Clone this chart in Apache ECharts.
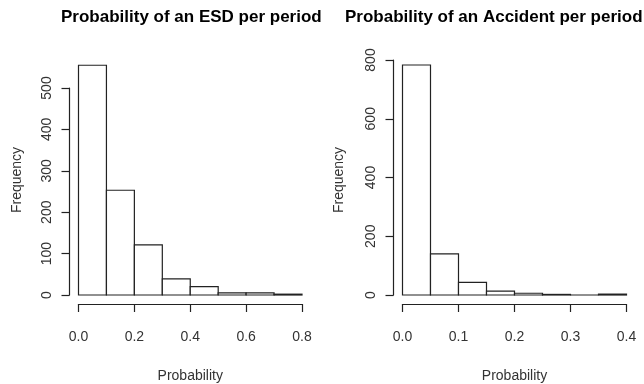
<!DOCTYPE html>
<html>
<head>
<meta charset="utf-8">
<script src="https://cdn.jsdelivr.net/npm/echarts@6/dist/echarts.min.js"></script>
<style>
  html, body { margin: 0; padding: 0; background: #fff; }
  #chart { width: 644px; height: 384px; }
</style>
</head>
<body>
<div id="chart"></div>
<script>
// Histogram bins (left edges + final right edge) and counts for each panel
const esdEdges = [0.0, 0.1, 0.2, 0.3, 0.4, 0.5, 0.6, 0.7, 0.8];
const esdCounts = [555, 253, 121, 39, 20, 5, 5, 2];
const accEdges = [0.0, 0.05, 0.10, 0.15, 0.20, 0.25, 0.30, 0.35, 0.40];
const accCounts = [783, 140, 43, 13, 6, 2, 0, 3];

const esdXTicks = [0.0, 0.2, 0.4, 0.6, 0.8];
const esdYTicks = [0, 100, 200, 300, 400, 500];
const accXTicks = [0.0, 0.1, 0.2, 0.3, 0.4];
const accYTicks = [0, 200, 400, 600, 800];

const titles = ['Probability of an ESD per period', 'Probability of an Accident per period'];
const xName = 'Probability';
const yName = 'Frequency';

function binData(edges, counts) {
  return counts.map((c, i) => [edges[i], edges[i + 1], c]);
}

const FONT = 'Liberation Sans, Arial, sans-serif';
const INK = '#222';
const TEXT = '#333';

function renderBin(params, api) {
  const top = api.coord([api.value(0), api.value(2)]);
  const base = api.coord([api.value(1), 0]);
  return {
    type: 'rect',
    shape: { x: top[0], y: top[1], width: base[0] - top[0], height: base[1] - top[1] },
    style: { fill: '#fff', stroke: INK, lineWidth: 1.2 }
  };
}

function xAxisFor(gridIndex, ticks) {
  return {
    type: 'value', gridIndex,
    min: ticks[0], max: ticks[ticks.length - 1],
    interval: ticks[1] - ticks[0],
    offset: 9,
    splitLine: { show: false },
    axisLine: { show: true, onZero: false, lineStyle: { color: INK, width: 1.2 } },
    axisTick: { show: true, length: 8, inside: false, lineStyle: { color: INK, width: 1.2 } },
    axisLabel: {
      margin: 26, color: TEXT, fontFamily: FONT, fontSize: 14,
      formatter: v => v.toFixed(1)
    },
    name: xName, nameLocation: 'middle', nameGap: 65,
    nameTextStyle: { color: TEXT, fontFamily: FONT, fontSize: 14 }
  };
}

function yAxisFor(gridIndex, ticks) {
  return {
    type: 'value', gridIndex,
    min: ticks[0], max: ticks[ticks.length - 1],
    interval: ticks[1] - ticks[0],
    offset: 9,
    splitLine: { show: false },
    axisLine: { show: true, onZero: false, lineStyle: { color: INK, width: 1.2 } },
    axisTick: { show: true, length: 8, inside: false, lineStyle: { color: INK, width: 1.2 } },
    axisLabel: {
      rotate: 90, margin: 15, color: TEXT, fontFamily: FONT, fontSize: 14,
      align: 'center', verticalAlign: 'bottom'
    }
  };
}

const chart = echarts.init(document.getElementById('chart'), null, { renderer: 'canvas' });

chart.setOption({
  animation: false,
  backgroundColor: '#fff',
  title: [
    { text: titles[0], left: 61, top: 9, padding: 0,
      textStyle: { fontFamily: FONT, fontSize: 17, fontWeight: 'bold', color: '#000' } },
    { text: titles[1], left: 345, top: 9, padding: 0,
      textStyle: { fontFamily: FONT, fontSize: 17, fontWeight: 'bold', color: '#000' } }
  ],
  grid: [
    { left: 78.5, top: 88, width: 223.5, height: 207, containLabel: false, outerBoundsMode: 'none' },
    { left: 402.5, top: 60, width: 224, height: 235, containLabel: false, outerBoundsMode: 'none' }
  ],
  xAxis: [xAxisFor(0, esdXTicks), xAxisFor(1, accXTicks)],
  yAxis: [yAxisFor(0, esdYTicks), yAxisFor(1, accYTicks)],
  graphic: [
    { type: 'text', x: 17, y: 180, rotation: Math.PI / 2,
      style: { text: yName, fill: TEXT, font: '14px ' + FONT, align: 'center', verticalAlign: 'middle' } },
    { type: 'text', x: 339, y: 180, rotation: Math.PI / 2,
      style: { text: yName, fill: TEXT, font: '14px ' + FONT, align: 'center', verticalAlign: 'middle' } }
  ],
  series: [
    { type: 'custom', xAxisIndex: 0, yAxisIndex: 0, clip: false,
      renderItem: renderBin, encode: { x: [0, 1], y: 2 },
      data: binData(esdEdges, esdCounts) },
    { type: 'custom', xAxisIndex: 1, yAxisIndex: 1, clip: false,
      renderItem: renderBin, encode: { x: [0, 1], y: 2 },
      data: binData(accEdges, accCounts) }
  ]
});
</script>
</body>
</html>
